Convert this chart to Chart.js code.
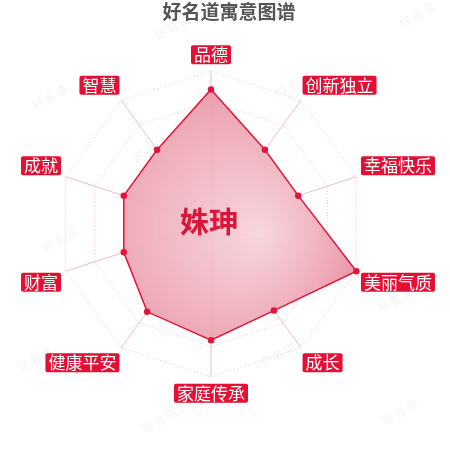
<!DOCTYPE html>
<html>
<head>
<meta charset="utf-8">
<script src="https://cdn.jsdelivr.net/npm/chart.js@4.4.0/dist/chart.umd.min.js"></script>
<style>
html,body{margin:0;padding:0;background:#fff;}
#wrap{width:450px;height:450px;position:relative;}
</style>
</head>
<body>
<div id="wrap"><canvas id="c" width="450" height="450"></canvas></div>
<script>
const categories = ['品德','创新独立','幸福快乐','美丽气质','成长','家庭传承','健康平安','财富','成就','智慧'];
const values = [88, 60, 60, 100, 70, 76, 71, 60, 60, 60];
const titleText = '好名道寓意图谱';
const centerName = '姝珅';
const watermarkText = '好名道';

const RED = '#e3153a';
const FONT = '"Noto Sans CJK SC","Noto Sans",sans-serif';

const bgPlugin = {
  id: 'bg',
  beforeDraw(chart) {
    const c = chart.ctx;
    c.save();
    c.fillStyle = '#fff';
    c.fillRect(0, 0, chart.width, chart.height);
    c.font = '11px ' + FONT;
    c.fillStyle = 'rgba(0,0,0,0.05)';
    const spots = [[50,97],[172,27],[293,85],[417,15],[35,360],[160,420],[278,355],[400,412],[290,215],[60,240],[395,300],[150,150]];
    spots.forEach(([x,y]) => {
      c.save();
      c.translate(x, y);
      c.rotate(-Math.PI/6);
      c.textAlign = 'center';
      c.textBaseline = 'middle';
      c.fillText(watermarkText.split('').join(' '), 0, 0);
      c.restore();
    });
    c.restore();
  }
};

const centerPlugin = {
  id: 'centerText',
  afterDatasetsDraw(chart) {
    const s = chart.scales.r;
    const c = chart.ctx;
    c.save();
    c.font = 'bold 29px ' + FONT;
    c.fillStyle = '#d8173a';
    c.textAlign = 'center';
    c.textBaseline = 'middle';
    c.fillText(centerName, s.xCenter - 2, s.yCenter - 2);
    c.restore();
  }
};

new Chart(document.getElementById('c'), {
  type: 'radar',
  data: {
    labels: categories,
    datasets: [{
      data: values,
      borderColor: RED,
      borderWidth: 1.5,
      pointBackgroundColor: RED,
      pointBorderColor: RED,
      pointRadius: 2.5,
      backgroundColor: (ctx) => {
        const chart = ctx.chart;
        const s = chart.scales.r;
        if (!s || !chart.chartArea) return 'rgba(232,140,158,0.7)';
        const g = chart.ctx.createRadialGradient(s.xCenter + 50, s.yCenter + 10, 0, s.xCenter, s.yCenter, s.drawingArea);
        g.addColorStop(0, 'rgba(246,212,219,0.95)');
        g.addColorStop(0.5, 'rgba(240,180,192,0.95)');
        g.addColorStop(1, 'rgba(232,145,162,0.95)');
        return g;
      }
    }]
  },
  options: {
    responsive: false,
    animation: false,
    layout: { padding: { left: 8, right: 0, top: 0, bottom: 31 } },
    plugins: {
      legend: { display: false },
      tooltip: { enabled: false },
      title: {
        display: true,
        text: titleText,
        color: '#555555',
        font: { size: 19, weight: 'bold', family: FONT },
        padding: { top: 0, bottom: 8 }
      }
    },
    scales: {
      r: {
        min: 0,
        max: 100,
        ticks: { display: false, stepSize: 20 },
        grid: { color: 'rgba(225,150,170,0.55)', lineWidth: 1 },
        border: { dash: [1, 2] },
        angleLines: { color: 'rgba(230,160,180,0.7)', lineWidth: 1 },
        pointLabels: {
          color: '#ffffff',
          backdropColor: '#e30f34',
          backdropPadding: { top: 1, bottom: 1, left: 3, right: 3 },
          borderRadius: 2,
          padding: 8,
          font: { size: 17, family: FONT, lineHeight: 1 }
        }
      }
    }
  },
  plugins: [bgPlugin, centerPlugin]
});
</script>
</body>
</html>
